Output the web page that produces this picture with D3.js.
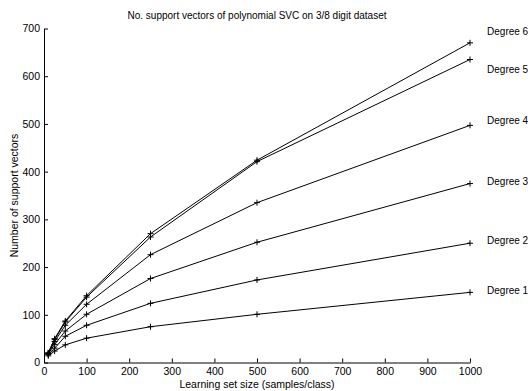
<!DOCTYPE html>
<html>
<head>
<meta charset="utf-8">
<script src="https://cdn.jsdelivr.net/npm/d3@7"></script>
<style>
  body { margin: 0; background: #fff; }
  svg { display: block; font-family: "Liberation Sans", Arial, Helvetica, sans-serif; }
</style>
</head>
<body>
<svg width="528" height="391"></svg>
<script>
const sizes = [10, 25, 50, 100, 250, 500, 1000]
const degree1 = [14, 24, 37, 51, 75, 101, 147]
const degree2 = [17, 30, 55, 78, 124, 173, 250]
const degree3 = [18, 38, 66, 101, 176, 252, 375]
const degree4 = [19, 44, 78, 122, 226, 335, 497]
const degree5 = [20, 48, 85, 137, 263, 421, 635]
const degree6 = [20, 50, 87, 140, 270, 424, 670]
const seriesNames = ['Degree 1', 'Degree 2', 'Degree 3', 'Degree 4', 'Degree 5', 'Degree 6']
const labelValues = [151, 255, 380, 507, 615, 694]
const xTicks = [0, 100, 200, 300, 400, 500, 600, 700, 800, 900, 1000]
const yTicks = [0, 100, 200, 300, 400, 500, 600, 700]

const series = [degree1, degree2, degree3, degree4, degree5, degree6]

const svg = d3.select('svg')
const margin = {top: 28.5, right: 58, bottom: 28.5, left: 44}
const width = +svg.attr('width')
const height = +svg.attr('height')
const innerWidth = width - margin.left - margin.right
const innerHeight = height - margin.top - margin.bottom

const g = svg.append('g')
  .attr('transform', `translate(${margin.left}, ${margin.top})`)

const x = d3.scaleLinear().domain([0, 1000]).range([0, innerWidth])
const y = d3.scaleLinear().domain([0, 700]).range([innerHeight, 0])

// axes with inward ticks
const xAxis = g.append('g')
  .attr('transform', `translate(0, ${innerHeight})`)
  .call(d3.axisBottom(x).tickValues(xTicks).tickFormat(d3.format('d'))
    .tickSize(-4).tickPadding(5).tickSizeOuter(0))
const yAxis = g.append('g')
  .call(d3.axisLeft(y).tickValues(yTicks).tickFormat(d3.format('d'))
    .tickSize(-4).tickPadding(4).tickSizeOuter(0))

for (const ax of [xAxis, yAxis]) {
  ax.attr('font-family', null).attr('font-size', 10.5)
  ax.selectAll('text').attr('fill', '#000')
  ax.selectAll('line, path').attr('stroke', '#000')
}

const line = d3.line()
  .x((d, i) => x(sizes[i]))
  .y(d => y(d))

series.forEach((values, k) => {
  g.append('path')
    .attr('d', line(values))
    .attr('fill', 'none')
    .attr('stroke', '#000')
    .attr('stroke-width', 1)

  values.forEach((v, i) => {
    const cx = x(sizes[i])
    const cy = y(v)
    g.append('path')
      .attr('d', `M${cx - 3},${cy}H${cx + 3}M${cx},${cy - 3}V${cy + 3}`)
      .attr('stroke', '#000')
      .attr('stroke-width', 1)
  })

  g.append('text')
    .attr('x', x(1040))
    .attr('y', y(labelValues[k]))
    .attr('dy', '0.35em')
    .attr('font-size', 10)
    .text(seriesNames[k])
})

svg.append('text')
  .attr('x', margin.left + innerWidth / 2)
  .attr('y', 19)
  .attr('text-anchor', 'middle')
  .attr('font-size', 10)
  .text('No. support vectors of polynomial SVC on 3/8 digit dataset')

svg.append('text')
  .attr('x', margin.left + innerWidth / 2)
  .attr('y', 387.5)
  .attr('text-anchor', 'middle')
  .attr('font-size', 10.5)
  .text('Learning set size (samples/class)')

svg.append('text')
  .attr('transform', `translate(18, ${margin.top + innerHeight / 2}) rotate(-90)`)
  .attr('text-anchor', 'middle')
  .attr('font-size', 10.5)
  .text('Number of support vectors')
</script>
</body>
</html>
